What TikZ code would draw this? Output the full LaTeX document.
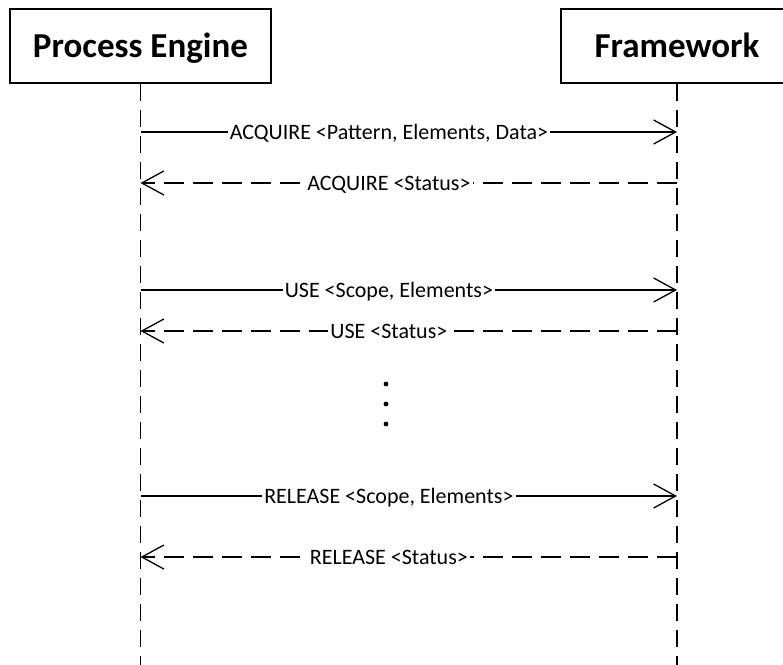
\documentclass[tikz,border=0pt]{standalone}
\usepackage{fontspec}
\setmainfont{Carlito}
\usetikzlibrary{arrows.meta}

\tikzset{
  actor/.style={draw, line width=1.5pt, minimum width=261pt, minimum height=74pt,
    inner sep=0pt, text height=22pt, text depth=0pt,
    font=\fontsize{35}{40}\selectfont\bfseries},
  lifeline/.style={line width=1.6pt, dash pattern=on 17pt off 9pt},
  msg/.style={line width=1.3pt, -{Straight Barb[length=22pt,width=24pt,line width=1.3pt]}},
  reply/.style={msg, dash pattern=on 20pt off 9pt},
  lbl/.style={fill=white, inner xsep=2pt, inner ysep=1pt, anchor=base, yshift=-7pt, pos=0.463,
    font=\fontsize{22}{26}\selectfont}
}

\begin{document}
\begin{tikzpicture}[x=1pt, y=-1pt]
  \useasboundingbox (0,0) rectangle (783,664);
  \clip (0,0) rectangle (783,664);

  % participants
  \node[actor] (pe) at (140.5,46) {Process Engine};
  \node[actor, minimum width=232pt] (fw) at (677,46) {Framework};

  % lifelines
  \coordinate (peEnd) at (pe.south |- 0,668);
  \coordinate (fwEnd) at (fw.south |- 0,668);
  \draw[lifeline] (pe.south) -- (peEnd);
  \draw[lifeline] (fw.south) -- (fwEnd);

  % acquire
  \draw[msg] (pe.south |- 0,132) -- node[lbl] {ACQUIRE <Pattern, Elements, Data>} (fw.south |- 0,132);
  \draw[reply] (fw.south |- 0,183) -- node[lbl, pos=0.537] {ACQUIRE <Status>} (pe.south |- 0,183);

  % use
  \draw[msg] (pe.south |- 0,290) -- node[lbl] {USE <Scope, Elements>} (fw.south |- 0,290);
  \draw[reply] (fw.south |- 0,331) -- node[lbl, pos=0.537] {USE <Status>} (pe.south |- 0,331);

  % ellipsis
  \foreach \yy in {384,404,424} \fill (386,\yy) circle (2.4pt);

  % release
  \draw[msg] (pe.south |- 0,496) -- node[lbl] {RELEASE <Scope, Elements>} (fw.south |- 0,496);
  \draw[reply] (fw.south |- 0,557) -- node[lbl, pos=0.537] {RELEASE <Status>} (pe.south |- 0,557);
\end{tikzpicture}
\end{document}
